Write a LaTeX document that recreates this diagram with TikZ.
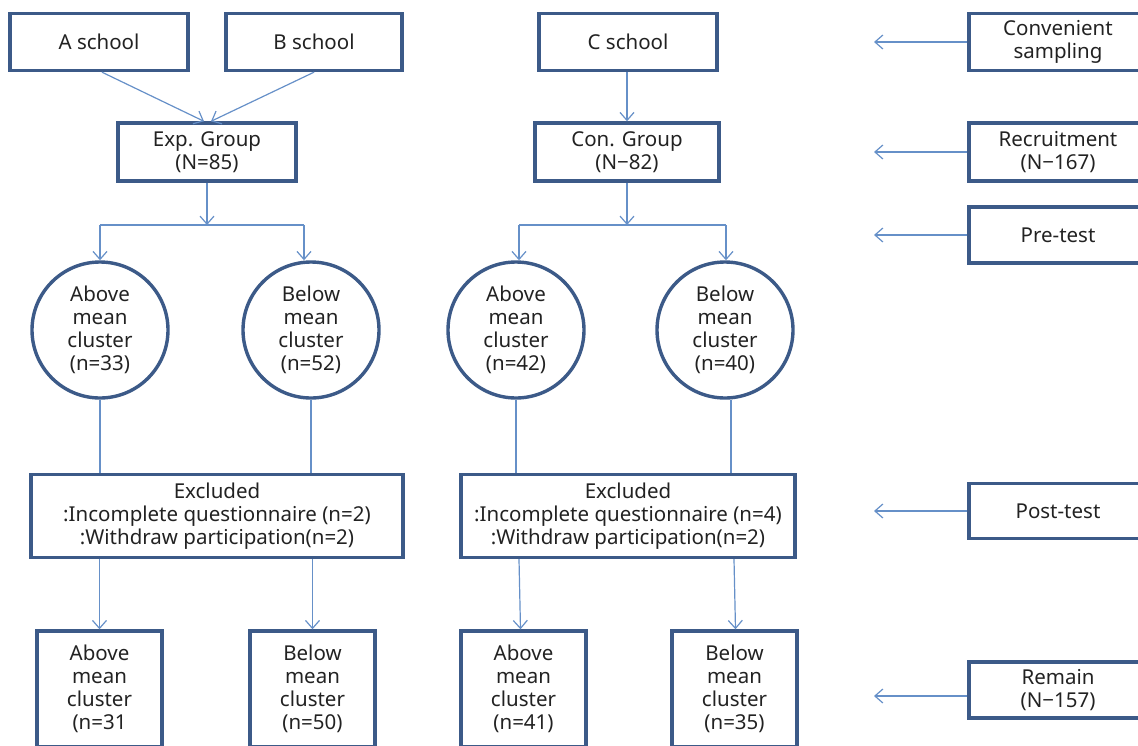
\documentclass[tikz,border=0pt]{standalone}
\usepackage{fontspec}
\setmainfont{Noto Sans}
\usetikzlibrary{arrows.meta,calc}
\definecolor{boxc}{HTML}{3C5A88}
\definecolor{linec}{HTML}{6690C8}
\definecolor{txt}{HTML}{222222}
\begin{document}
\begin{tikzpicture}[x=1pt,y=-1pt,
  box/.style={draw=boxc,line width=3.4pt,rectangle,minimum width=178pt,minimum height=57pt,align=center,text=txt,font=\fontsize{20.5}{23}\selectfont,inner sep=0pt},
  circ/.style={draw=boxc,line width=3.4pt,circle,minimum size=136pt,align=center,text=txt,font=\fontsize{20.5}{23}\selectfont,inner sep=0pt},
  conn/.style={draw=linec,line width=1.2pt},
  arr/.style={conn,-{Straight Barb[length=8pt,width=14pt]}}]
\useasboundingbox (0,0) rectangle (1138,745);
\clip (0,0) rectangle (1138,745);
% top row
\node[box] (A) at (99,42) {A school};
\node[box,minimum width=176pt] (B) at (314,42) {B school};
\node[box] (C) at (628,42) {C school};
\node[box,minimum height=58pt] (Exp) at (207,152) {Exp. Group\\(N=85)};
\node[box,minimum width=184pt,minimum height=58pt] (Con) at (627,152) {Con. Group\\(N−82)};
% right column
\node[box] (Conv) at (1058,42) {Convenient\\sampling};
\node[box,minimum height=58pt] (Recr) at (1058,152) {Recruitment\\(N−167)};
\node[box,minimum height=56pt] (Pre) at (1058,235) {Pre-test};
\node[box,minimum height=55pt] (Post) at (1058,511) {Post-test};
\node[box,minimum height=56pt] (Rem) at (1058,690) {Remain\\(N−157)};
% circles
\node[circ] (AE) at (100,330) {Above\\mean\\cluster\\(n=33)};
\node[circ] (BE) at (311,330) {Below\\mean\\cluster\\(n=52)};
\node[circ] (AC) at (516,330) {Above\\mean\\cluster\\(n=42)};
\node[circ] (BC) at (725,330) {Below\\mean\\cluster\\(n=40)};
% excluded
\node[box,minimum width=372pt,minimum height=83pt] (ExE) at (217,516) {Excluded\\:Incomplete questionnaire (n=2)\\:Withdraw participation(n=2)};
\node[box,minimum width=334pt,minimum height=83pt] (ExC) at (628,516) {Excluded\\:Incomplete questionnaire (n=4)\\:Withdraw participation(n=2)};
% bottom boxes
\node[box,minimum width=125pt,minimum height=116pt] (RAE) at (99.5,689) {Above\\mean\\cluster\\(n=31};
\node[box,minimum width=125pt,minimum height=116pt] (RBE) at (312.5,689) {Below\\mean\\cluster\\(n=50)};
\node[box,minimum width=125pt,minimum height=116pt] (RAC) at (523.5,689) {Above\\mean\\cluster\\(n=41)};
\node[box,minimum width=125pt,minimum height=116pt] (RBC) at (734.5,689) {Below\\mean\\cluster\\(n=35)};
% junctions
\coordinate (jE) at (207,225);
\coordinate (jEL) at (100,225);
\coordinate (jER) at (304,225);
\coordinate (jC) at (627,225);
\coordinate (jCL) at (519,225);
\coordinate (jCR) at (726,225);
% connectors top
\draw[arr] (A.south -| 102,0) -- ($(Exp.north)+(-3,0)$);
\draw[arr] (B.south) -- ($(Exp.north)+(4,0)$);
\draw[arr] (C.south -| Con.north) -- (Con.north);
\draw[arr] (Exp.south) -- (jE);
\draw[arr] (Con.south) -- (jC);
\draw[conn] (jEL) -- (jER);
\draw[conn] (jCL) -- (jCR);
\draw[arr] (jEL) -- (AE.north);
\draw[arr] (jER) -- (jER |- BE.north);
\draw[arr] (jCL) -- (jCL |- AC.north);
\draw[arr] (jCR) -- (jCR |- BC.north);
% circles to excluded
\draw[conn] (AE.south) -- (AE.south |- ExE.north);
\draw[conn] (BE.south) -- (BE.south |- ExE.north);
\draw[conn] (AC.south) -- (AC.south |- ExC.north);
\draw[conn] (BC.south -| 731,0) -- (731,0 |- ExC.north);
% excluded to remain
\draw[arr] (RAE.north |- ExE.south) -- (RAE.north);
\draw[arr] (RBE.north |- ExE.south) -- (RBE.north);
\draw[arr] (ExC.south -| 519,0) -- ($(RAC.north)+(-3,0)$);
\draw[arr] (ExC.south -| 734,0) -- ($(RBC.north)+(1,0)$);
% right arrows
\coordinate (tConv) at (874,42);
\coordinate (tRecr) at (874,152);
\coordinate (tPre) at (874,235);
\coordinate (tPost) at (874,511);
\coordinate (tRem) at (874,696);
\draw[arr] (Conv.west) -- (tConv);
\draw[arr] (Recr.west) -- (tRecr);
\draw[arr] (Pre.west) -- (tPre);
\draw[arr] (Post.west) -- (tPost);
\draw[arr] (Rem.west |- tRem) -- (tRem);
\end{tikzpicture}
\end{document}
